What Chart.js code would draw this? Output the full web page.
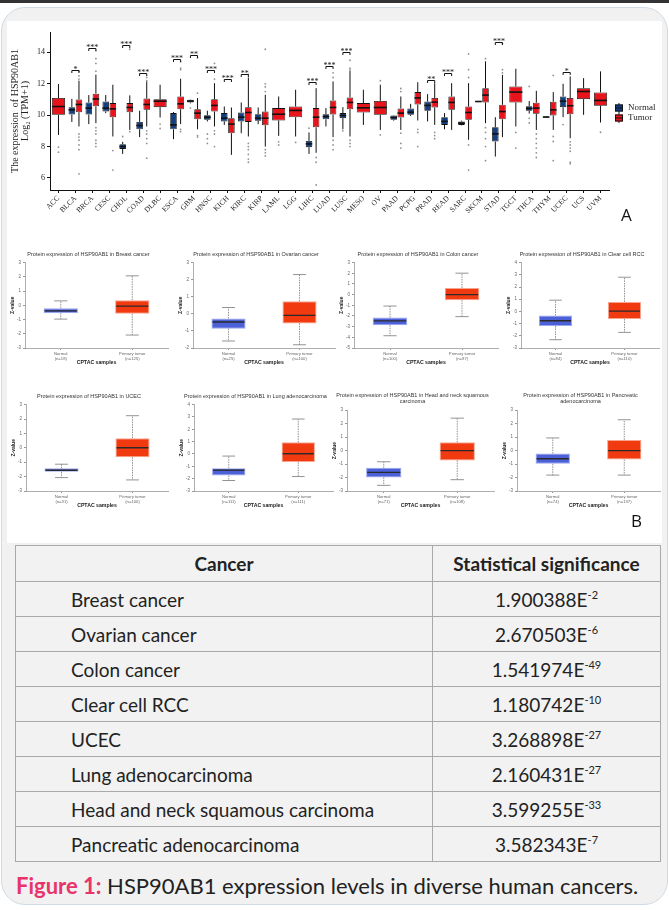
<!DOCTYPE html>
<html>
<head>
<meta charset="utf-8">
<script src="https://cdn.jsdelivr.net/npm/chart.js@4.4.1/dist/chart.umd.min.js"></script>
<style>
body{margin:0;width:669px;height:910px;background:#fff;position:relative;overflow:hidden;font-family:Lato,sans-serif}
#topbar{position:absolute;left:0;top:0;width:669px;height:3px;background:#333}
#card{position:absolute;left:1px;top:7px;width:665px;height:896px;background:#f1f1f1;border:1px solid #cfdce6;border-radius:24px}
#figure{position:absolute;left:7px;top:21px;width:655px;height:522px;background:#fff}
canvas{position:absolute}
.letter{position:absolute;font:17px 'Open Sans',sans-serif;color:#111}
#sig{position:absolute;left:15px;top:545px;width:646px;border-collapse:collapse;color:#222;background:#f2f2f2;table-layout:fixed}
#sig th,#sig td{border:1px solid #a9a9a9;padding:0;font-size:19px}
#sig th{height:35px;font-weight:700;text-align:center}
#sig td{height:34px}
#sig td.name{padding-left:55px}
#sig td.val{text-align:center}
#sig sup{font-size:11px;vertical-align:8px;line-height:0}
#caption{position:absolute;left:16px;top:872px;font-size:22px;line-height:28px;color:#222;white-space:nowrap}
#caption b{color:#e8336b}
</style>
</head>
<body>
<div id="topbar"></div>
<div id="card"></div>
<div id="figure"></div>
<canvas id="chartA" width="655" height="215" style="left:7px;top:21px"></canvas>
<div class="letter" style="left:621px;top:203px">A</div>
<div class="letter" style="left:631px;top:509px">B</div>
<table id="sig">
<colgroup><col style="width:417px"><col></colgroup>
<thead><tr><th>Cancer</th><th>Statistical significance</th></tr></thead>
<tbody id="sigBody"></tbody>
</table>
<div id="caption"><b>Figure 1:</b> HSP90AB1 expression levels in diverse human cancers.</div>
<script>
// ---------- Panel A: TCGA expression, log2(TPM+1) ----------
const cancers = ['ACC','BLCA','BRCA','CESC','CHOL','COAD','DLBC','ESCA','GBM','HNSC','KICH','KIRC','KIRP','LAML','LGG','LIHC','LUAD','LUSC','MESO','OV','PAAD','PCPG','PRAD','READ','SARC','SKCM','STAD','TGCT','THCA','THYM','UCEC','UCS','UVM'];

const normalLow    = [null,9.57,9.43,10.13,7.53,8.6,null,8.47,10.75,9.6,9.38,8.85,9.43,null,null,7.53,9.28,9.1,null,null,9.65,9.95,9.6,9.1,9.35,10.84,7.36,null,10.1,9.83,9.87,null,null];
const normalQ1     = [null,10.04,10.04,10.23,7.85,9.1,null,9.1,10.8,9.7,9.6,9.6,9.64,null,null,7.96,9.74,9.81,null,null,9.7,10.02,10.28,9.38,9.38,10.85,8.32,null,10.28,9.85,10.51,null,null];
const normalMedian = [null,10.34,10.45,10.45,8.0,9.34,null,9.38,10.9,9.87,9.81,9.87,9.81,null,null,8.17,9.91,9.98,null,null,9.85,10.19,10.62,9.6,9.49,10.87,8.81,null,10.43,9.88,10.89,null,null];
const normalQ3     = [null,10.51,10.81,10.87,8.15,9.57,null,10.13,10.98,10.0,10.13,10.17,10.06,null,null,8.36,10.06,10.13,null,null,9.98,10.43,10.87,9.87,9.6,10.89,9.23,null,10.57,9.91,11.19,null,null];
const normalHigh   = [null,11.04,11.28,11.28,8.3,10.28,null,10.2,11.0,10.28,10.55,10.81,10.49,null,null,8.9,10.45,10.51,null,null,10.0,10.72,11.34,10.13,9.65,10.9,9.87,null,10.9,9.93,12.0,null,null];

const tumorLow    = [8.74,9.28,9.49,8.64,9.06,9.28,9.85,9.43,9.1,9.28,7.47,8.64,8.0,8.68,8.64,7.6,8.6,8.64,9.38,9.06,9.06,9.66,9.38,9.06,8.43,9.49,8.6,9.28,9.06,9.06,8.53,10.02,9.53];
const tumorQ1     = [10.02,10.19,10.57,9.87,10.19,10.34,10.51,10.38,9.74,10.23,8.85,9.57,9.36,9.66,9.87,9.23,10.04,10.38,10.17,10.02,9.85,10.68,10.49,10.34,9.7,10.81,9.74,10.81,10.09,9.98,10.06,11.02,10.6];
const tumorMedian = [10.55,10.68,11.03,10.4,10.49,10.68,10.89,10.72,10.13,10.62,9.43,10.17,9.81,10.06,10.3,9.87,10.49,10.81,10.47,10.49,10.13,11.1,10.83,10.81,10.17,11.28,10.23,11.47,10.45,10.34,10.6,11.51,10.94];
const tumorQ3     = [11.09,11.0,11.37,10.77,10.77,11.06,11.02,11.19,10.38,11.02,9.81,10.51,10.23,10.45,10.55,10.45,10.94,11.13,10.77,10.91,10.43,11.47,11.09,11.19,10.55,11.72,10.66,11.83,10.79,10.85,11.09,11.72,11.45];
const tumorHigh   = [11.98,12.2,12.58,11.94,11.26,12.15,11.94,12.32,11.09,12.04,10.49,12.4,11.3,11.19,11.62,11.72,12.15,12.83,11.62,11.94,11.19,12.1,12.04,12.04,12.04,13.43,12.57,12.96,11.55,11.47,12.47,12.36,12.79];

const normalOutliers = [[],[],[],[],[8.64],[],[],[],[10.45],[8.8,8.5,8.2],[],[],[],[],[],[9.17],[],[9.0],[],[],[],[],[],[],[],[],[],[],[11.83,9.8,9.5],[],[9.4],[],[]];
const tumorOutliers = [
  [7.96,7.64],[12.8,12.5,12.3,8.8,8.6,8.4,8.1,7.8,6.26],[14.1,13.6,13.3,12.8,9.2,9.0,8.8,8.4,8.2,8.0],[7.74,6.5],
  [14.2,8.95],[12.4,12.2,9.0,8.8,8.5,8.2,7.26],[9.43,9.15],[13.4,13.0,12.9,9.1,8.95],[13.65,11.4,8.7,8.6],
  [13.3,12.3,9.0,8.8,8.0],[],[12.6,8.2,8.0,7.8,7.5,7.2,7.0],[14.2,12.0,11.8,11.5,7.8,7.6,7.4],[8.3,8.1],[8.26],
  [7.3,7.0,5.55],[12.7,12.4,8.4,8.1,7.8],[13.5,13.0,12.9,8.4,8.2,8.0],[],[12.2,8.74],[11.7,11.5,8.85,8.2,7.9],
  [9.1,8.9,8.0],[8.9,8.7,8.5],[],[13.9,12.9,12.4,8.1,6.5],[13.6,9.2,8.9,8.5,8.0,7.1],[14.55,12.9,12.7],
  [8.9,7.9],[8.8,8.5,8.2,7.9,7.6,7.3],[12.53,8.64,8.32,7.1],[8.3,8.1,7.9,7.7,7.0,6.9],[],[8.91]
];

const sigLabels = ['','*','***','','***','***','','***','**','***','***','**','','','','***','***','***','','','','','**','***','','','***','','','','*','',''];
const sigLevel  = [null,12.9,14.3,null,14.45,12.68,null,13.55,13.85,12.9,12.3,12.6,null,null,null,12.1,13.15,14.05,null,null,null,null,12.25,12.7,null,null,14.65,null,null,null,12.75,null,null];
const yTicksA = [6, 8, 10, 12, 14];

// ---------- Panel B: CPTAC protein Z-values ----------
const cptacTitles = [
  'Protein expression of HSP90AB1 in Breast cancer',
  'Protein expression of HSP90AB1 in Ovarian cancer',
  'Protein expression of HSP90AB1 in Colon cancer',
  'Protein expression of HSP90AB1 in Clear cell RCC',
  'Protein expression of HSP90AB1 in UCEC',
  'Protein expression of HSP90AB1 in Lung adenocarcinoma',
  ['Protein expression of HSP90AB1 in Head and neck squamous', 'carcinoma'],
  ['Protein expression of HSP90AB1 in Pancreatic', 'adenocarcinoma']
];
const cptacNormalN = [18, 25, 100, 84, 31, 111, 71, 74];
const cptacTumorN  = [125, 100, 97, 110, 100, 111, 108, 137];
// [min, q1, median, q3, max]
const cptacNormalStats = [
  [-0.97,-0.55,-0.39,-0.2,0.31], [-1.59,-0.87,-0.48,-0.27,0.37], [-3.85,-2.86,-2.46,-2.15,-1.07], [-2.32,-1.2,-0.77,-0.33,0.92],
  [-2.07,-1.67,-1.56,-1.42,-1.14], [-2.15,-1.75,-1.31,-1.15,-0.17], [-2.58,-1.99,-1.62,-1.28,-0.83], [-1.82,-0.98,-0.61,-0.22,0.94]
];
const cptacTumorStats = [
  [-2.09,-0.6,-0.06,0.36,2.07], [-1.81,-0.56,-0.09,0.74,2.3], [-2.06,-0.52,0.0,0.62,2.01], [-1.72,-0.63,0.02,0.78,2.8],
  [-2.23,-0.65,0.0,0.67,2.23], [-1.83,-0.66,0.02,0.94,2.83], [-2.16,-0.73,0.0,0.62,2.41], [-1.82,-0.66,0.0,0.79,2.29]
];
const cptacYMin = [-3, -2, -5, -3, -3, -3, -3, -3];
const cptacYMax = [3, 3, 3, 4, 3, 4, 3, 3];

// ---------- Table ----------
const tableCancers = ['Breast cancer','Ovarian cancer','Colon cancer','Clear cell RCC','UCEC','Lung adenocarcinoma','Head and neck squamous carcinoma','Pancreatic adenocarcinoma'];
const tableMantissa = ['1.900388','2.670503','1.541974','1.180742','3.268898','2.160431','3.599255','3.582343'];
const tableExponent = [-2, -6, -49, -10, -27, -27, -33, -7];

const sigBody = document.getElementById('sigBody');
tableCancers.forEach((c, i) => {
  const tr = document.createElement('tr');
  tr.innerHTML = '<td class="name">' + c + '</td><td class="val">' + tableMantissa[i] + 'E<sup>' + tableExponent[i] + '</sup></td>';
  sigBody.appendChild(tr);
});

// draws whiskers, medians and outliers on top of floating-bar boxes
const boxplotPlugin = {
  id: 'boxplot',
  afterDatasetsDraw(chart, args, o) {
    const ctx = chart.ctx;
    const ys = chart.scales.y;
    ctx.save();
    chart.data.datasets.forEach((ds, di) => {
      const meta = chart.getDatasetMeta(di);
      meta.data.forEach((bar, i) => {
        const s = ds.stats[i];
        if (!s) return;
        const x = bar.x, w = bar.width;
        const [lo, q1, med, q3, hi] = s.map(v => ys.getPixelForValue(v));
        ctx.strokeStyle = o.whiskerColor;
        ctx.lineWidth = o.whiskerWidth;
        ctx.setLineDash(o.whiskerDash || []);
        ctx.beginPath();
        ctx.moveTo(x, q3); ctx.lineTo(x, hi);
        ctx.moveTo(x, q1); ctx.lineTo(x, lo);
        ctx.stroke();
        ctx.setLineDash([]);
        if (o.capRatio) {
          const c = w * o.capRatio / 2;
          ctx.beginPath();
          ctx.moveTo(x - c, hi); ctx.lineTo(x + c, hi);
          ctx.moveTo(x - c, lo); ctx.lineTo(x + c, lo);
          ctx.stroke();
        }
        ctx.strokeStyle = o.medianColor;
        ctx.lineWidth = o.medianWidth;
        ctx.beginPath();
        ctx.moveTo(x - w / 2 + o.medianInset, med); ctx.lineTo(x + w / 2 - o.medianInset, med);
        ctx.stroke();
        const outs = ds.outliers ? ds.outliers[i] : [];
        ctx.fillStyle = o.outlierColor;
        outs.forEach(v => {
          ctx.beginPath();
          ctx.arc(x, ys.getPixelForValue(v), o.outlierRadius, 0, Math.PI * 2);
          ctx.fill();
        });
      });
    });
    ctx.restore();
  }
};

// significance brackets and legend for panel A
const annotatePlugin = {
  id: 'annotateA',
  afterDraw(chart) {
    const ctx = chart.ctx;
    const ys = chart.scales.y;
    const mN = chart.getDatasetMeta(0), mT = chart.getDatasetMeta(1);
    ctx.save();
    ctx.strokeStyle = '#111';
    ctx.fillStyle = '#111';
    ctx.lineWidth = 1;
    ctx.font = '8px "Liberation Serif", serif';
    ctx.textAlign = 'center';
    ctx.textBaseline = 'alphabetic';
    sigLabels.forEach((lab, i) => {
      if (!lab) return;
      const xn = mN.data[i].x, xt = mT.data[i].x;
      const y = Math.round(ys.getPixelForValue(sigLevel[i])) + 0.5;
      ctx.beginPath();
      ctx.moveTo(xn, y + 2.5); ctx.lineTo(xn, y); ctx.lineTo(xt, y); ctx.lineTo(xt, y + 2.5);
      ctx.stroke();
      ctx.fillText(lab, (xn + xt) / 2, y + 1.5);
    });
    // legend
    const lx = chart.chartArea.right + 6;
    const keys = [['Normal', colorNormal, 87], ['Tumor', colorTumor, 97]];
    ctx.textAlign = 'left';
    ctx.textBaseline = 'middle';
    ctx.font = '9px "Liberation Serif", serif';
    keys.forEach(([lab, col, y]) => {
      ctx.beginPath();
      ctx.moveTo(lx + 4, y - 5); ctx.lineTo(lx + 4, y + 5);
      ctx.stroke();
      ctx.fillStyle = col;
      ctx.fillRect(lx, y - 3.5, 8, 7);
      ctx.strokeRect(lx + 0.5, y - 3, 7, 6);
      ctx.beginPath();
      ctx.moveTo(lx, y); ctx.lineTo(lx + 8, y);
      ctx.stroke();
      ctx.fillStyle = '#222';
      ctx.fillText(lab, lx + 13, y);
    });
    ctx.restore();
  }
};

const colorNormal = '#123f82';
const colorTumor = '#e8141b';

const pick = (lo, q1, md, q3, hi) => cancers.map((c, i) => q1[i] == null ? null : [lo[i], q1[i], md[i], q3[i], hi[i]]);

new Chart(document.getElementById('chartA'), {
  type: 'bar',
  data: {
    labels: cancers,
    datasets: [
      {
        label: 'Normal',
        data: cancers.map((c, i) => normalQ1[i] == null ? null : [normalQ1[i], normalQ3[i]]),
        stats: pick(normalLow, normalQ1, normalMedian, normalQ3, normalHigh),
        outliers: normalOutliers,
        backgroundColor: colorNormal, borderColor: '#111', borderWidth: 0.8, borderSkipped: false
      },
      {
        label: 'Tumor',
        data: cancers.map((c, i) => [tumorQ1[i], tumorQ3[i]]),
        stats: pick(tumorLow, tumorQ1, tumorMedian, tumorQ3, tumorHigh),
        outliers: tumorOutliers,
        backgroundColor: colorTumor, borderColor: '#111', borderWidth: 0.8, borderSkipped: false
      }
    ]
  },
  options: {
    responsive: false,
    animation: false,
    skipNull: true,
    categoryPercentage: 0.84,
    barPercentage: 0.92,
    layout: { padding: { top: 11, right: 53, left: 0, bottom: 0 } },
    plugins: {
      legend: { display: false },
      tooltip: { enabled: false },
      boxplot: {
        whiskerColor: '#111', whiskerWidth: 1, medianColor: '#111', medianWidth: 1.6, medianInset: 0,
        outlierColor: 'rgba(110,110,110,0.75)', outlierRadius: 0.9, capRatio: 0
      }
    },
    scales: {
      x: {
        grid: { display: true, drawOnChartArea: false, offset: false, tickLength: 3, color: '#111' },
        border: { color: '#111', width: 1 },
        ticks: { color: '#222', font: { family: '"Liberation Serif", serif', size: 7.5 }, minRotation: 45, maxRotation: 45, autoSkip: false, padding: 1 },
        afterFit: s => { s.height = 46; }
      },
      y: {
        min: 5.23, max: 15.3,
        afterBuildTicks: s => { s.ticks = yTicksA.map(v => ({ value: v })); },
        grid: { display: true, drawOnChartArea: false, tickLength: 3, color: '#111' },
        border: { color: '#111', width: 1 },
        ticks: { color: '#222', font: { family: '"Liberation Serif", serif', size: 8 }, padding: 2 },
        title: {
          display: true, text: ['The expression  of HSP90AB1', 'Log\u2082 (TPM+1)'], color: '#222',
          font: { family: '"Liberation Serif", serif', size: 10, lineHeight: 1.0 }, padding: { top: 3, bottom: 0 }
        },
        afterFit: s => { s.width = 43; }
      }
    }
  },
  plugins: [boxplotPlugin, annotatePlugin]
});

// ---------- Panel B small charts ----------
const bPlotLeft   = [25, 193, 354, 521, 26, 194, 347, 517];
const bPlotRight  = [168, 335, 498, 659, 168, 333, 494, 660];
const bPlotTop    = [263, 263, 263, 263, 405, 405, 410, 410];
const bPlotBottom = [348, 348, 348, 348, 491, 491, 491, 491];

cptacTitles.forEach((title, i) => {
  const lines = Array.isArray(title) ? title.length : 1;
  const titleH = 4 + lines * 6.6 + 5;
  const left = bPlotLeft[i] - 16;
  const top = Math.round(bPlotTop[i] - titleH);
  const width = bPlotRight[i] - left + 2;
  const height = bPlotBottom[i] - top + 22;
  const cv = document.createElement('canvas');
  cv.width = width; cv.height = height;
  cv.style.left = left + 'px'; cv.style.top = top + 'px';
  document.body.appendChild(cv);
  new Chart(cv, {
    type: 'bar',
    data: {
      labels: [['Normal', '(n=' + cptacNormalN[i] + ')'], ['Primary tumor', '(n=' + cptacTumorN[i] + ')']],
      datasets: [{
        data: [[cptacNormalStats[i][1], cptacNormalStats[i][3]], [cptacTumorStats[i][1], cptacTumorStats[i][3]]],
        stats: [cptacNormalStats[i], cptacTumorStats[i]],
        backgroundColor: ['#4c60d8', '#f23a10'],
        borderColor: ['#98a6ef', '#f8a590'],
        borderWidth: 1, borderSkipped: false,
        barPercentage: 0.48, categoryPercentage: 1
      }]
    },
    options: {
      responsive: false,
      animation: false,
      layout: { padding: { right: 2 } },
      plugins: {
        legend: { display: false },
        tooltip: { enabled: false },
        title: {
          display: true, text: title, color: '#333',
          font: { family: '"Liberation Sans", sans-serif', size: 5.5, lineHeight: 1.2, weight: 'normal' },
          padding: { top: 4, bottom: 5 }
        },
        boxplot: {
          whiskerColor: '#777', whiskerWidth: 0.8, whiskerDash: [1.5, 1], medianColor: '#2a2a2a', medianWidth: 1.4,
          medianInset: 1, outlierColor: '#777', outlierRadius: 1, capRatio: 0.38
        }
      },
      scales: {
        x: {
          grid: { display: true, drawOnChartArea: false, offset: false, tickLength: 2, color: '#999' },
          border: { color: '#999', width: 0.8 },
          ticks: { color: '#666', font: { family: '"Liberation Sans", sans-serif', size: 4.2, lineHeight: 1.1 }, padding: 2, maxRotation: 0 },
          title: {
            display: true, text: 'CPTAC samples', color: '#222',
            font: { family: '"Liberation Sans", sans-serif', size: 5.2, weight: 'bold' }, padding: { top: 1, bottom: 4 }
          },
          afterFit: s => { s.height = 22; }
        },
        y: {
          min: cptacYMin[i], max: cptacYMax[i],
          grid: { display: true, drawOnChartArea: false, tickLength: 2, color: '#999' },
          border: { color: '#999', width: 0.8 },
          ticks: { stepSize: 1, color: '#666', font: { family: '"Liberation Sans", sans-serif', size: 4.5 }, padding: 2 },
          title: {
            display: true, text: 'Z-value', color: '#222',
            font: { family: '"Liberation Sans", sans-serif', size: 5, weight: 'bold', lineHeight: 1.2 }, padding: { top: 1, bottom: 0 }
          },
          afterFit: s => { s.width = 16; }
        }
      }
    },
    plugins: [boxplotPlugin]
  });
});
</script>
</body>
</html>
